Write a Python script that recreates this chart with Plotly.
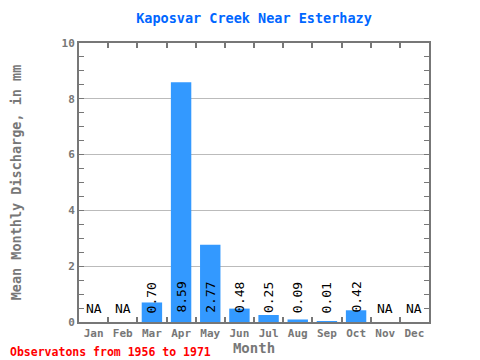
import plotly.graph_objects as go

months = ["Jan", "Feb", "Mar", "Apr", "May", "Jun", "Jul", "Aug", "Sep", "Oct", "Nov", "Dec"]
values = [None, None, 0.70, 8.59, 2.77, 0.48, 0.25, 0.09, 0.01, 0.42, None, None]

FONT = "DejaVu Sans Mono"
GREY = "#777777"

fig = go.Figure()
fig.add_trace(go.Bar(x=months, y=[v if v is not None else 0 for v in values],
                     marker=dict(color="#3399ff", line=dict(width=0)),
                     width=0.7, hoverinfo="skip"))

annotations = []
for m, v in zip(months, values):
    if v is None:
        annotations.append(dict(x=m, y=0, yref="y", xref="x", text="NA", showarrow=False,
                                yanchor="bottom", yshift=4,
                                font=dict(family=FONT, size=13, color="black")))
    else:
        annotations.append(dict(x=m, y=0, yref="y", xref="x", text=f"{v:.2f}", showarrow=False,
                                textangle=-90, yanchor="bottom", yshift=7,
                                font=dict(family=FONT, size=13, color="black")))

annotations.append(dict(x=0, y=0, xref="paper", yref="paper", xanchor="left", yanchor="middle",
                        xshift=-71, yshift=-30,
                        text="Observatons from 1956 to 1971", showarrow=False,
                        font=dict(family=FONT, size=11.5, color="red", weight="bold")))

fig.update_layout(
    width=480, height=360,
    margin=dict(l=71, r=59, t=35, b=46, autoexpand=False),
    paper_bgcolor="white", plot_bgcolor="white",
    showlegend=False,
    bargap=0.3,
    title=dict(text="Kaposvar Creek Near Esterhazy", x=0.5125, xanchor="center",
               y=0.972, yref="container", yanchor="middle",
               font=dict(family=FONT, size=13.5, color="#0066ff", weight="bold")),
    xaxis=dict(type="category", tickson="boundaries", ticks="inside", ticklen=5, tickwidth=2,
               tickcolor=GREY, showline=True, linecolor=GREY, linewidth=2, mirror="ticks",
               tickangle=0, automargin=False,
               tickfont=dict(family=FONT, size=11, color=GREY, weight="bold"),
               title=dict(text="Month", font=dict(family=FONT, size=14, color=GREY, weight="bold"),
                          standoff=0),
               showgrid=False, fixedrange=True),
    yaxis=dict(range=[0, 10], dtick=2, ticks="inside", ticklen=5, tickwidth=1, tickcolor=GREY,
               showline=True, linecolor=GREY, linewidth=2, mirror="ticks", automargin=False,
               minor=dict(dtick=0.5, ticks="inside", ticklen=5, tickcolor=GREY, showgrid=False),
               showgrid=True, gridcolor="#bbbbbb", gridwidth=1, zeroline=False,
               tickfont=dict(family=FONT, size=11, color=GREY, weight="bold"),
               title=dict(text="Mean Monthly Discharge, in mm",
                          font=dict(family=FONT, size=13.5, color=GREY, weight="bold"), standoff=44)),
    annotations=annotations,
)

fig.write_html("out.html")
